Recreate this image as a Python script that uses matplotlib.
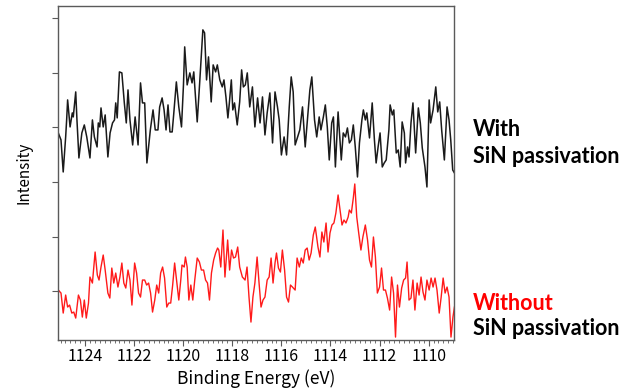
import matplotlib.pyplot as plt
import numpy as np

# Si 1s region, sample with SiN passivation (binding energy in eV, intensity in arb. units)
with_sin_energy = [
    1125.09, 1124.98, 1124.89, 1124.79, 1124.75, 1124.71, 1124.61, 1124.52, 1124.48, 1124.38,
    1124.33, 1124.25, 1124.13, 1124.03, 1123.93, 1123.80, 1123.70, 1123.62, 1123.51, 1123.46,
    1123.40, 1123.35, 1123.26, 1123.18, 1123.07, 1122.98, 1122.88, 1122.80, 1122.75, 1122.69,
    1122.60, 1122.50, 1122.40, 1122.32, 1122.25, 1122.17, 1122.06, 1121.96, 1121.84, 1121.74,
    1121.66, 1121.57, 1121.48, 1121.34, 1121.23, 1121.14, 1121.03, 1120.96, 1120.86, 1120.78,
    1120.70, 1120.62, 1120.54, 1120.45, 1120.39, 1120.28, 1120.18, 1120.07, 1119.99, 1119.94,
    1119.84, 1119.73, 1119.64, 1119.57, 1119.43, 1119.33, 1119.20, 1119.13, 1119.05, 1118.97,
    1118.86, 1118.78, 1118.68, 1118.61, 1118.51, 1118.41, 1118.34, 1118.26, 1118.18, 1118.12,
    1118.04, 1117.98, 1117.91, 1117.80, 1117.70, 1117.62, 1117.55, 1117.47, 1117.39, 1117.29,
    1117.18, 1117.08, 1116.97, 1116.87, 1116.77, 1116.67, 1116.58, 1116.47, 1116.36, 1116.26,
    1116.16, 1116.09, 1116.00, 1115.89, 1115.79, 1115.68, 1115.60, 1115.52, 1115.44, 1115.34,
    1115.25, 1115.14, 1115.03, 1114.93, 1114.84, 1114.76, 1114.65, 1114.56, 1114.46, 1114.39,
    1114.29, 1114.21, 1114.13, 1114.05, 1113.95, 1113.88, 1113.80, 1113.69, 1113.56, 1113.48,
    1113.39, 1113.31, 1113.23, 1113.15, 1113.07, 1112.99, 1112.90, 1112.82, 1112.72, 1112.66,
    1112.58, 1112.52, 1112.41, 1112.30, 1112.21, 1112.14, 1112.06, 1111.98, 1111.89, 1111.81,
    1111.73, 1111.62, 1111.57, 1111.48, 1111.42, 1111.32, 1111.24, 1111.16, 1111.08, 1110.99,
    1110.94, 1110.86, 1110.80, 1110.72, 1110.64, 1110.53, 1110.42, 1110.34, 1110.26, 1110.15,
    1110.07, 1109.98, 1109.92, 1109.82, 1109.71, 1109.63, 1109.55, 1109.47, 1109.36, 1109.25,
    1109.17, 1109.10, 1109.02, 1108.95,
]
with_sin_counts = [
    212, 205, 173, 208, 225, 245, 218, 232, 228, 253,
    225, 187, 212, 220, 208, 187, 225, 208, 198, 222,
    218, 237, 218, 230, 188, 212, 222, 225, 242, 227,
    273, 272, 242, 222, 255, 225, 200, 228, 200, 262,
    242, 242, 182, 215, 235, 215, 215, 238, 247, 235,
    215, 240, 213, 213, 230, 263, 238, 218, 260, 298,
    260, 272, 262, 273, 223, 262, 315, 312, 265, 288,
    243, 280, 273, 280, 265, 258, 265, 248, 227, 242,
    265, 235, 242, 220, 243, 275, 258, 260, 272, 238,
    258, 218, 247, 222, 248, 210, 232, 252, 202, 253,
    238, 225, 190, 208, 190, 238, 268, 253, 200, 208,
    215, 238, 198, 228, 255, 268, 225, 208, 228, 215,
    228, 240, 218, 185, 222, 228, 178, 233, 185, 212,
    208, 217, 202, 205, 220, 198, 168, 202, 225, 235,
    225, 232, 207, 242, 205, 182, 198, 212, 178, 182,
    185, 215, 240, 230, 235, 192, 195, 178, 223, 212,
    182, 198, 188, 222, 242, 192, 237, 222, 197, 178,
    158, 245, 222, 235, 258, 233, 243, 215, 185, 238,
    225, 205, 175, 172,
]

# Same region, sample without passivation
without_sin_energy = [
    1125.09, 1124.98, 1124.89, 1124.79, 1124.71, 1124.63, 1124.54, 1124.46, 1124.38, 1124.27,
    1124.19, 1124.11, 1124.03, 1123.95, 1123.86, 1123.80, 1123.70, 1123.59, 1123.50, 1123.43,
    1123.35, 1123.26, 1123.18, 1123.07, 1122.99, 1122.91, 1122.83, 1122.75, 1122.66, 1122.58,
    1122.50, 1122.42, 1122.34, 1122.25, 1122.17, 1122.09, 1121.98, 1121.90, 1121.82, 1121.74,
    1121.66, 1121.57, 1121.49, 1121.41, 1121.33, 1121.25, 1121.16, 1121.08, 1121.00, 1120.92,
    1120.84, 1120.76, 1120.67, 1120.59, 1120.51, 1120.43, 1120.35, 1120.27, 1120.18, 1120.10,
    1120.05, 1119.96, 1119.91, 1119.84, 1119.77, 1119.69, 1119.61, 1119.53, 1119.43, 1119.34,
    1119.26, 1119.17, 1119.09, 1119.01, 1118.93, 1118.85, 1118.76, 1118.68, 1118.60, 1118.55,
    1118.47, 1118.38, 1118.30, 1118.19, 1118.11, 1118.03, 1117.95, 1117.87, 1117.78, 1117.70,
    1117.59, 1117.48, 1117.40, 1117.32, 1117.24, 1117.16, 1117.08, 1116.99, 1116.91, 1116.83,
    1116.75, 1116.67, 1116.58, 1116.50, 1116.42, 1116.34, 1116.26, 1116.20, 1116.12, 1116.04,
    1115.96, 1115.87, 1115.79, 1115.71, 1115.63, 1115.55, 1115.44, 1115.36, 1115.27, 1115.19,
    1115.11, 1115.03, 1114.95, 1114.87, 1114.79, 1114.70, 1114.62, 1114.51, 1114.43, 1114.35,
    1114.27, 1114.18, 1114.10, 1114.02, 1113.94, 1113.86, 1113.78, 1113.69, 1113.61, 1113.53,
    1113.45, 1113.37, 1113.28, 1113.23, 1113.15, 1113.07, 1113.01, 1112.93, 1112.85, 1112.76,
    1112.68, 1112.58, 1112.49, 1112.41, 1112.33, 1112.25, 1112.17, 1112.09, 1112.00, 1111.92,
    1111.84, 1111.76, 1111.68, 1111.59, 1111.51, 1111.43, 1111.35, 1111.27, 1111.19, 1111.10,
    1111.02, 1110.94, 1110.88, 1110.80, 1110.72, 1110.64, 1110.56, 1110.47, 1110.39, 1110.31,
    1110.23, 1110.15, 1110.07, 1109.98, 1109.90, 1109.82, 1109.74, 1109.66, 1109.57, 1109.49,
    1109.41, 1109.33, 1109.25, 1109.17, 1109.09, 1109.01, 1108.95,
]
without_sin_counts = [
    55, 52, 32, 50, 38, 40, 32, 33, 27, 50,
    45, 28, 45, 27, 42, 68, 62, 93, 70, 65,
    78, 90, 75, 52, 47, 77, 62, 72, 58, 68,
    82, 62, 57, 75, 65, 40, 82, 72, 52, 48,
    65, 65, 60, 62, 52, 33, 45, 60, 52, 72,
    78, 67, 38, 42, 42, 60, 82, 65, 45, 65,
    80, 78, 88, 78, 45, 60, 45, 65, 87, 83,
    75, 75, 65, 62, 45, 72, 85, 92, 97, 95,
    78, 115, 68, 105, 75, 95, 87, 88, 98, 78,
    68, 65, 78, 48, 23, 48, 62, 88, 62, 38,
    45, 48, 65, 68, 87, 62, 82, 92, 77, 73,
    95, 75, 48, 43, 60, 58, 55, 87, 78, 87,
    82, 95, 97, 85, 92, 110, 118, 98, 88, 113,
    103, 122, 93, 112, 120, 122, 132, 150, 135, 120,
    125, 122, 128, 135, 132, 147, 161, 128, 112, 95,
    108, 120, 105, 85, 78, 108, 88, 52, 58, 77,
    55, 55, 47, 35, 68, 52, 8, 60, 38, 57,
    65, 67, 83, 45, 47, 65, 35, 62, 50, 68,
    53, 45, 65, 55, 67, 58, 67, 55, 32, 48,
    67, 52, 58, 48, 8, 28, 38,
]

energy_ticks = [1124, 1122, 1120, 1118, 1116, 1114, 1112, 1110]
intensity_ticks = [54, 108, 163, 218, 272, 327]

jp_font = ['Noto Sans CJK JP', 'DejaVu Sans']
axis_grey = '#5a5a5a'

fig = plt.figure(figsize=(6.31, 3.90), dpi=100)
ax = fig.add_axes([0.092, 0.128, 0.627, 0.857])

ax.plot(with_sin_energy, with_sin_counts, color='#1a1a1a', lw=1.1)
ax.plot(without_sin_energy, without_sin_counts, color='#ff1a1a', lw=1.0)

# binding energy runs right to left
ax.set_xlim(1125.1, 1108.98)
ax.set_ylim(5, 339)

ax.set_xticks(energy_ticks)
ax.set_xticks(np.arange(1109.0, 1125.1, 0.2), minor=True)
ax.set_xticklabels([str(t) for t in energy_ticks], family=jp_font, fontsize=11.5)
ax.set_yticks(intensity_ticks)
ax.set_yticklabels([])

ax.tick_params(axis='x', which='major', direction='out', length=4, width=0.8, color=axis_grey, pad=2)
ax.tick_params(axis='x', which='minor', direction='out', length=2.5, width=0.6, color=axis_grey)
ax.tick_params(axis='y', which='major', direction='out', length=4, width=0.8, color=axis_grey)
for side in ax.spines.values():
    side.set_color(axis_grey)
    side.set_linewidth(1.0)

ax.set_xlabel('Binding Energy (eV)', family=jp_font, fontsize=12.5, labelpad=3)
ax.set_ylabel('Intensity', family=jp_font, fontsize=11, labelpad=11)

# sample labels to the right of the plot
label_font = dict(family='Lato', fontweight='bold', fontsize=15.5, va='baseline', ha='left')
fig.text(0.750, 0.651, 'With', color='black', **label_font)
fig.text(0.750, 0.582, 'SiN passivation', color='black', **label_font)
fig.text(0.750, 0.205, 'Without', color='#ff0000', **label_font)
fig.text(0.750, 0.141, 'SiN passivation', color='black', **label_font)

plt.savefig('out.png', dpi=100)
